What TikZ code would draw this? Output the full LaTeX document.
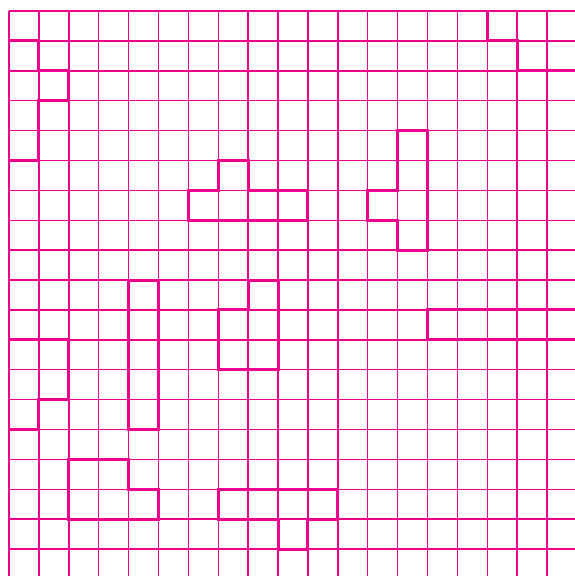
\documentclass[tikz,border=0pt]{standalone}
\definecolor{pink}{RGB}{236,0,140}

\begin{document}
\begin{tikzpicture}[
  gridline/.style={pink,line width=1.4pt},
  piece/.style={pink,line width=2.8pt,line join=miter}]
\useasboundingbox (-0.301,0.368) rectangle (18.93,-18.90);
\clip (-0.301,0.368) rectangle (18.93,-18.90);

% the grid
\foreach \i in {0,...,19} {
  \draw[gridline] (\i,0) -- (\i,-20);
  \draw[gridline] (0,-\i) -- (20,-\i);
}

% the pieces
\draw[piece] (16,0) -- (19,0) -- (19,-2) -- (17,-2) -- (17,-1) -- (16,-1) -- cycle;
\draw[piece] (0,-1) -- (1,-1) -- (1,-2) -- (2,-2) -- (2,-3) -- (1,-3) -- (1,-5) -- (0,-5) -- cycle;
\draw[piece] (7,-5) -- (8,-5) -- (8,-6) -- (10,-6) -- (10,-7) -- (6,-7) -- (6,-6) -- (7,-6) -- cycle;
\draw[piece] (13,-4) -- (14,-4) -- (14,-8) -- (13,-8) -- (13,-7) -- (12,-7) -- (12,-6) -- (13,-6) -- cycle;
\draw[piece] (4,-9) rectangle (5,-14);
\draw[piece] (8,-9) -- (9,-9) -- (9,-12) -- (7,-12) -- (7,-10) -- (8,-10) -- cycle;
\draw[piece] (14,-10) rectangle (19,-11);
\draw[piece] (0,-11) -- (2,-11) -- (2,-13) -- (1,-13) -- (1,-14) -- (0,-14) -- cycle;
\draw[piece] (2,-15) -- (4,-15) -- (4,-16) -- (5,-16) -- (5,-17) -- (2,-17) -- cycle;
\draw[piece] (7,-16) -- (11,-16) -- (11,-17) -- (10,-17) -- (10,-18) -- (9,-18) -- (9,-17) -- (7,-17) -- cycle;
\end{tikzpicture}
\end{document}
